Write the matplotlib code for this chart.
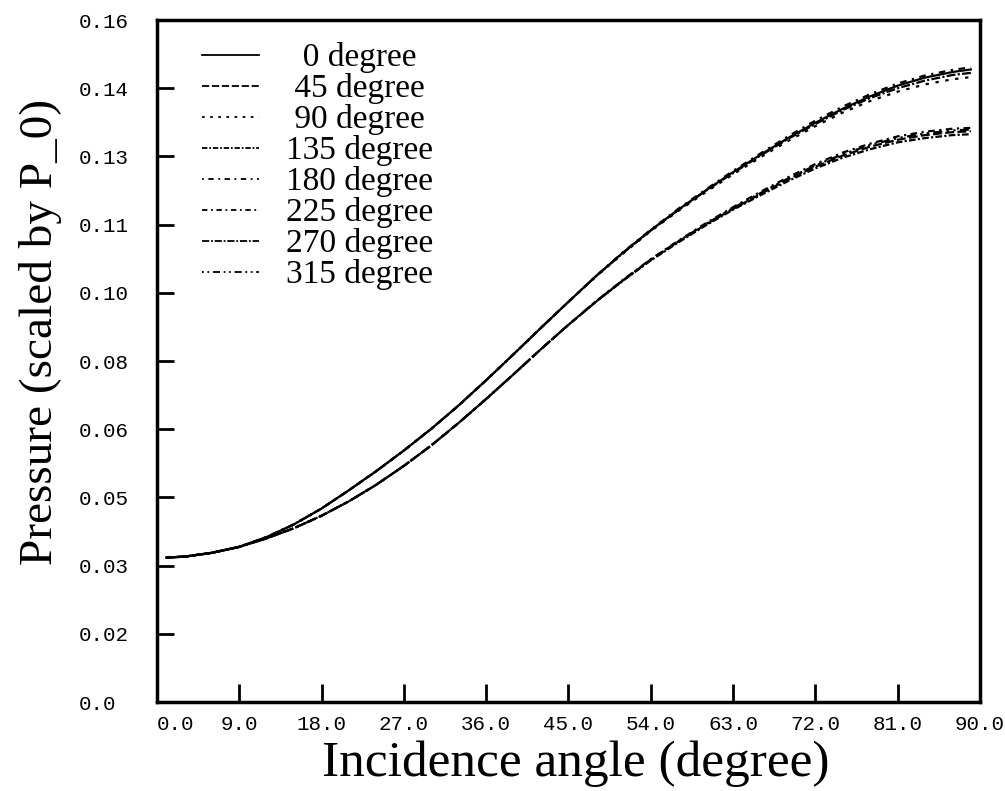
import numpy as np
import matplotlib
matplotlib.use("Agg")
import matplotlib.pyplot as plt

angle = [1, 3, 6, 9, 12, 15, 18, 21, 24, 27, 30, 33, 36, 39, 42, 45,
         48, 51, 54, 57, 60, 63, 66, 69, 72, 75, 78, 81, 84, 87, 89]

# upper bundle (0, 90, 180, 270 degree)
p_000 = [0.0339, 0.0341, 0.0350, 0.0364, 0.0387, 0.0417, 0.0454, 0.0497, 0.0542, 0.0590,
         0.0641, 0.0696, 0.0755, 0.0816, 0.0878, 0.0939, 0.0999, 0.1055, 0.1107, 0.1155,
         0.1200, 0.1243, 0.1284, 0.1323, 0.1359, 0.1392, 0.1421, 0.1446, 0.1465, 0.1478, 0.1484]
p_090 = [0.0339, 0.0341, 0.0350, 0.0364, 0.0387, 0.0417, 0.0454, 0.0497, 0.0542, 0.0590,
         0.0641, 0.0696, 0.0755, 0.0816, 0.0878, 0.0939, 0.0998, 0.1053, 0.1105, 0.1152,
         0.1196, 0.1238, 0.1278, 0.1316, 0.1351, 0.1383, 0.1410, 0.1432, 0.1449, 0.1461, 0.1466]
p_180 = [0.0339, 0.0341, 0.0350, 0.0364, 0.0387, 0.0417, 0.0454, 0.0497, 0.0542, 0.0590,
         0.0641, 0.0696, 0.0755, 0.0816, 0.0878, 0.0939, 0.0999, 0.1056, 0.1108, 0.1157,
         0.1202, 0.1246, 0.1287, 0.1327, 0.1364, 0.1397, 0.1426, 0.1451, 0.1470, 0.1483, 0.1489]
p_270 = [0.0339, 0.0341, 0.0350, 0.0364, 0.0387, 0.0417, 0.0454, 0.0497, 0.0542, 0.0590,
         0.0641, 0.0696, 0.0755, 0.0816, 0.0878, 0.0939, 0.0999, 0.1054, 0.1106, 0.1154,
         0.1199, 0.1241, 0.1282, 0.1321, 0.1356, 0.1389, 0.1417, 0.1440, 0.1458, 0.1471, 0.1476]
# lower bundle (45, 135, 225, 315 degree)
p_045 = [0.0339, 0.0341, 0.0350, 0.0364, 0.0384, 0.0408, 0.0437, 0.0471, 0.0510, 0.0554,
         0.0602, 0.0655, 0.0711, 0.0769, 0.0828, 0.0885, 0.0939, 0.0990, 0.1037, 0.1080,
         0.1120, 0.1157, 0.1192, 0.1226, 0.1256, 0.1282, 0.1303, 0.1319, 0.1330, 0.1337, 0.1339]
p_135 = [0.0339, 0.0341, 0.0350, 0.0364, 0.0384, 0.0408, 0.0437, 0.0471, 0.0510, 0.0554,
         0.0602, 0.0655, 0.0711, 0.0769, 0.0828, 0.0885, 0.0939, 0.0989, 0.1036, 0.1078,
         0.1118, 0.1155, 0.1189, 0.1222, 0.1252, 0.1277, 0.1297, 0.1313, 0.1323, 0.1330, 0.1332]
p_225 = [0.0339, 0.0341, 0.0350, 0.0364, 0.0384, 0.0408, 0.0437, 0.0471, 0.0510, 0.0554,
         0.0602, 0.0655, 0.0711, 0.0769, 0.0828, 0.0885, 0.0940, 0.0991, 0.1039, 0.1082,
         0.1123, 0.1161, 0.1197, 0.1231, 0.1262, 0.1289, 0.1310, 0.1327, 0.1338, 0.1345, 0.1347]
p_315 = [0.0339, 0.0341, 0.0350, 0.0364, 0.0384, 0.0408, 0.0437, 0.0471, 0.0510, 0.0554,
         0.0602, 0.0655, 0.0711, 0.0769, 0.0828, 0.0885, 0.0940, 0.0990, 0.1038, 0.1081,
         0.1121, 0.1159, 0.1194, 0.1228, 0.1259, 0.1285, 0.1307, 0.1323, 0.1334, 0.1341, 0.1343]

# leading spaces keep the legend text roughly centred like the original
labels = ["  0 degree", " 45 degree", " 90 degree", "135 degree",
          "180 degree", "225 degree", "270 degree", "315 degree"]
series = [p_000, p_045, p_090, p_135, p_180, p_225, p_270, p_315]
styles = ["-", (0, (4, 1.5)), (0, (1.5, 3)), (0, (3, 1, 1, 1)),
          (0, (1, 2.5, 3, 2.5)), (0, (3, 2, 1, 2)), (0, (4, 1, 1, 1)),
          (0, (1, 2, 1, 2, 4, 2))]

xtick_labels = ["0.0", "9.0", "18.0", "27.0", "36.0", "45.0", "54.0", "63.0", "72.0", "81.0", "90.0"]
ytick_labels = ["0.0", "0.02", "0.03", "0.05", "0.06", "0.08", "0.10", "0.11", "0.13", "0.14", "0.16"]

serif = "Liberation Serif"
mono = "Liberation Mono"

fig = plt.figure(figsize=(10.05, 7.91), dpi=100)
ax = fig.add_axes([0.1562, 0.1125, 0.8189, 0.8622])

for vals, lab, ls in zip(series, labels, styles):
    ax.plot(angle, vals, color="black", lw=1.6, ls=ls, label=lab)

ax.set_xlim(0, 90)
ax.set_ylim(0, 0.16)
ax.set_xticks(np.linspace(0, 90, 11))
ax.set_xticklabels(xtick_labels, fontfamily=mono, fontsize=15)
ax.get_xticklabels()[0].set_ha("left")
ax.set_yticks(np.linspace(0, 0.16, 11))
ax.set_yticklabels(ytick_labels, fontfamily=mono, fontsize=15, ha="left")

ax.tick_params(axis="x", direction="in", length=13, width=2, pad=9)
ax.tick_params(axis="y", direction="in", length=12, width=2, pad=56)
ax.tick_params(top=False, right=False)
for sp in ax.spines.values():
    sp.set_linewidth(2.5)

ax.set_xlabel("Incidence angle (degree)", fontfamily=serif, fontsize=37)
ax.set_ylabel("Pressure (scaled by P_0)", fontfamily=serif, fontsize=34)
ax.xaxis.set_label_coords(0.509, -0.057)
ax.yaxis.set_label_coords(-0.115, 0.5425)

leg = ax.legend(loc="upper left", bbox_to_anchor=(0.039, 0.987), frameon=False,
                prop={"family": serif, "size": 24}, handlelength=1.7,
                handletextpad=0.8, labelspacing=0.0, borderaxespad=0)
for line in leg.get_lines():
    line.set_linewidth(1.3)

fig.savefig("out.png", dpi=100)
